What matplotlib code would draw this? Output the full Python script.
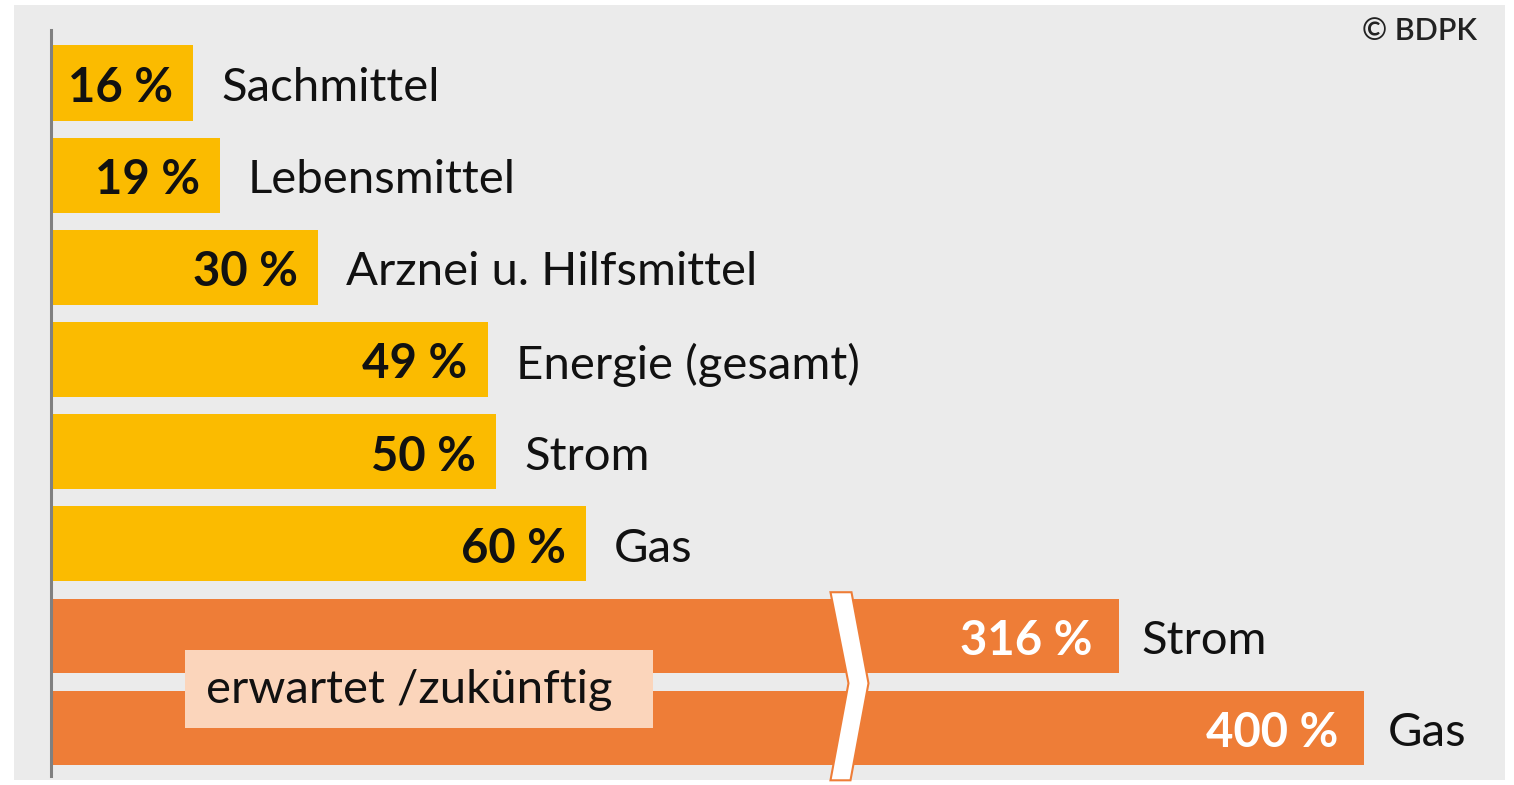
import matplotlib
matplotlib.use("Agg")
import matplotlib.pyplot as plt
import numpy as np
from matplotlib.patches import Rectangle, Polygon
from matplotlib.transforms import blended_transform_factory

plt.rcParams["font.family"] = ["Lato", "DejaVu Sans"]

# current price increases
current_labels = ["Sachmittel", "Lebensmittel", "Arznei u. Hilfsmittel",
                  "Energie (gesamt)", "Strom", "Gas"]
current_values = [16, 19, 30, 49, 50, 60]
# expected / future increases
expected_labels = ["Strom", "Gas"]
expected_values = [316, 400]

YELLOW = "#fbbb00"
ORANGE = "#ee7d37"
BG = "#ebebeb"

# broken x axis: everything between BL and BR is skipped
BL, BR, K = 88.9, 222.0, 0.328


def fwd(x):
    x = np.asarray(x, dtype=float)
    return np.where(x <= BL, x, np.where(x >= BR, BL + (x - BR) * K, BL))


def inv(y):
    y = np.asarray(y, dtype=float)
    return np.where(y <= BL, y, BR + (y - BL) / K)


W, H = 1514, 785
fig = plt.figure(figsize=(W / 100, H / 100), dpi=100)
fig.patch.set_facecolor("white")
fig.patches.append(Rectangle((14 / W, 1 - 780 / H), (1505 - 14) / W, 775 / H,
                             transform=fig.transFigure, facecolor=BG,
                             edgecolor="none", zorder=-10))

left_px, right_px, top_px, bot_px = 50.5, 1505, 30, 776
ax = fig.add_axes([left_px / W, 1 - bot_px / H,
                   (right_px - left_px) / W, (bot_px - top_px) / H])
ax.set_facecolor("none")
ax.set_xscale("function", functions=(fwd, inv))
px_per_unit = 8.92
xmax = float(inv((right_px - left_px) / px_per_unit))
ax.set_xlim(0, xmax)
row_px = 92.1
ax.set_ylim(7 + (bot_px - 728) / row_px, -(83 - top_px) / row_px)

for s in ["top", "right", "bottom"]:
    ax.spines[s].set_visible(False)
ax.spines["left"].set_color("#808080")
ax.spines["left"].set_linewidth(2.2)
ax.set_xticks([])
ax.set_yticks([])

n_cur = len(current_values)
y_cur = np.arange(n_cur)
y_exp = np.arange(n_cur, n_cur + len(expected_values))

ax.barh(y_cur, current_values, height=0.815, color=YELLOW, zorder=2)
ax.barh(y_exp, expected_values, height=0.81, color=ORANGE, zorder=2)

FS = 34
DY = -5
for y, v, lab in zip(y_cur, current_values, current_labels):
    ax.annotate(f"{v} %", (v, y), xytext=(-20, DY), textcoords="offset pixels",
                ha="right", va="center", fontsize=FS, fontweight="bold",
                color="#111111", zorder=5)
    ax.annotate(lab, (v, y), xytext=(28, DY), textcoords="offset pixels",
                ha="left", va="center", fontsize=FS, color="#111111", zorder=5)

for y, v, lab in zip(y_exp, expected_values, expected_labels):
    ax.annotate(f"{v} %", (v, y), xytext=(-26, DY), textcoords="offset pixels",
                ha="right", va="center", fontsize=FS, fontweight="bold",
                color="white", zorder=5)
    ax.annotate(lab, (v, y), xytext=(23, DY), textcoords="offset pixels",
                ha="left", va="center", fontsize=FS, color="#111111", zorder=5)

# "erwartet /zukünftig" box over the orange bars
ax.add_patch(Rectangle((15.1, 6.156), 67.6 - 15.1, 7.0 - 6.156,
                       facecolor="#fbd5bb", edgecolor="none", zorder=3))
ax.annotate("erwartet /zukünftig", (17.4, 6.56), xytext=(0, -3),
            textcoords="offset pixels", ha="left", va="center",
            fontsize=FS, color="#111111", zorder=5)

# break marker (white chevron)
ax_w_px = right_px - left_px
bx = BL / float(fwd(xmax))
tr = blended_transform_factory(ax.transAxes, ax.transData)


def yrow(p):
    return (p - 83) / row_px


pts = [(-13, 592), (8, 592), (25, 683), (7, 780), (-13, 780), (5, 683)]
verts = [(bx + dx / ax_w_px, yrow(py)) for dx, py in pts]
ax.add_patch(Polygon(verts, closed=True, facecolor="white", edgecolor=ORANGE,
                     linewidth=1.5, transform=tr, zorder=4, clip_on=False))

fig.text(1420 / W, 1 - 31 / H, "© BDPK", ha="center", va="center",
         fontsize=22, fontweight="semibold", color="#222222")

fig.savefig("out.png", dpi=100)
